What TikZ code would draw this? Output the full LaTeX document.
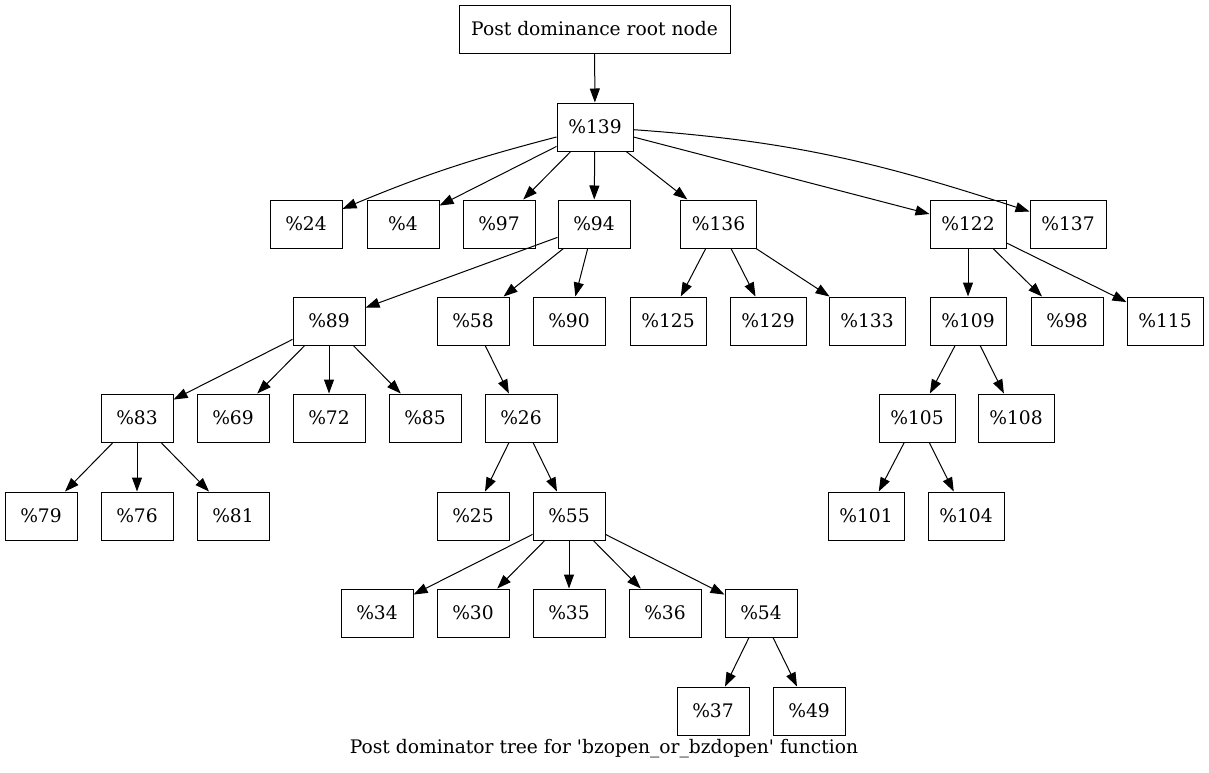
\documentclass[tikz,border=0pt]{standalone}
\usepackage{fontspec}
\setmainfont{DejaVu Serif}
\usetikzlibrary{arrows.meta}
\tikzset{
  nd/.style={draw, line width=0.75pt, minimum width=54pt, minimum height=36pt, inner sep=0pt, font=\fontsize{14pt}{16pt}\selectfont},
  wd/.style={nd, minimum width=57pt},
  edge/.style={line width=0.75pt, -{Triangle[length=10.5pt,width=7.5pt]}},
}
\begin{document}
\begin{tikzpicture}[x=0.75pt,y=-0.75pt]
\useasboundingbox (0,0) rectangle (1209,772);
\node[nd, minimum width=203.25pt] (root) at (594.5,29) {Post dominance root node};
\node[wd] (n139) at (595,127) {\%139};
% row 224
\node[nd] (n24) at (306,224) {\%24};
\node[nd] (n4) at (403,224) {\%4};
\node[nd] (n97) at (499,224) {\%97};
\node[nd] (n94) at (594,224) {\%94};
\node[wd] (n136) at (718.5,224) {\%136};
\node[wd] (n122) at (968,224) {\%122};
\node[wd] (n137) at (1068,224) {\%137};
% row 321
\node[nd] (n89) at (329,321) {\%89};
\node[nd] (n58) at (473,321) {\%58};
\node[nd] (n90) at (569,321) {\%90};
\node[wd] (n125) at (668,321) {\%125};
\node[wd] (n129) at (768,321) {\%129};
\node[wd] (n133) at (867,321) {\%133};
\node[wd] (n109) at (968,321) {\%109};
\node[nd] (n98) at (1067,321) {\%98};
\node[wd] (n115) at (1165,321) {\%115};
% row 418
\node[nd] (n83) at (137,418) {\%83};
\node[nd] (n69) at (233,418) {\%69};
\node[nd] (n72) at (329,418) {\%72};
\node[nd] (n85) at (425,418) {\%85};
\node[nd] (n26) at (521,418) {\%26};
\node[wd] (n105) at (917,418) {\%105};
\node[wd] (n108) at (1016,418) {\%108};
% row 516
\node[nd] (n79) at (41,516) {\%79};
\node[nd] (n76) at (137,516) {\%76};
\node[nd] (n81) at (233,516) {\%81};
\node[nd] (n25) at (473,516) {\%25};
\node[nd] (n55) at (569,516) {\%55};
\node[wd] (n101) at (866,516) {\%101};
\node[wd] (n104) at (966,516) {\%104};
% row 613
\node[nd] (n34) at (377,613) {\%34};
\node[nd] (n30) at (473,613) {\%30};
\node[nd] (n35) at (569,613) {\%35};
\node[nd] (n36) at (665,613) {\%36};
\node[nd] (n54) at (761,613) {\%54};
% row 711
\node[nd] (n37) at (713,711) {\%37};
\node[nd] (n49) at (809,711) {\%49};
% caption
\node[font=\fontsize{14pt}{16pt}\selectfont, inner sep=0pt] (cap) at (604,749) {Post dominator tree for \textquotesingle bzopen\_or\_bzdopen\textquotesingle{} function};
% edges
\draw[edge] (root) -- (n139);
\draw[edge] (n139) to[bend right=4] (n24);
\draw[edge] (n139) -- (n4);
\draw[edge] (n139) -- (n97);
\draw[edge] (n139) -- (n94);
\draw[edge] (n139) -- (n136);
\draw[edge] (n139) -- (n122);
\draw[edge] (n139) to[out=-4, in=162] (n137);
\draw[edge] (n94) -- (n89);
\draw[edge] (n94) -- (n58);
\draw[edge] (n94) -- (n90);
\draw[edge] (n136) -- (n125);
\draw[edge] (n136) -- (n129);
\draw[edge] (n136) -- (n133);
\draw[edge] (n122) -- (n109);
\draw[edge] (n122) -- (n98);
\draw[edge] (n122) -- (n115);
\draw[edge] (n89) -- (n83);
\draw[edge] (n89) -- (n69);
\draw[edge] (n89) -- (n72);
\draw[edge] (n89) -- (n85);
\draw[edge] (n58) -- (n26);
\draw[edge] (n109) -- (n105);
\draw[edge] (n109) -- (n108);
\draw[edge] (n83) -- (n79);
\draw[edge] (n83) -- (n76);
\draw[edge] (n83) -- (n81);
\draw[edge] (n26) -- (n25);
\draw[edge] (n26) -- (n55);
\draw[edge] (n105) -- (n101);
\draw[edge] (n105) -- (n104);
\draw[edge] (n55) -- (n34);
\draw[edge] (n55) -- (n30);
\draw[edge] (n55) -- (n35);
\draw[edge] (n55) -- (n36);
\draw[edge] (n55) -- (n54);
\draw[edge] (n54) -- (n37);
\draw[edge] (n54) -- (n49);
\end{tikzpicture}
\end{document}
